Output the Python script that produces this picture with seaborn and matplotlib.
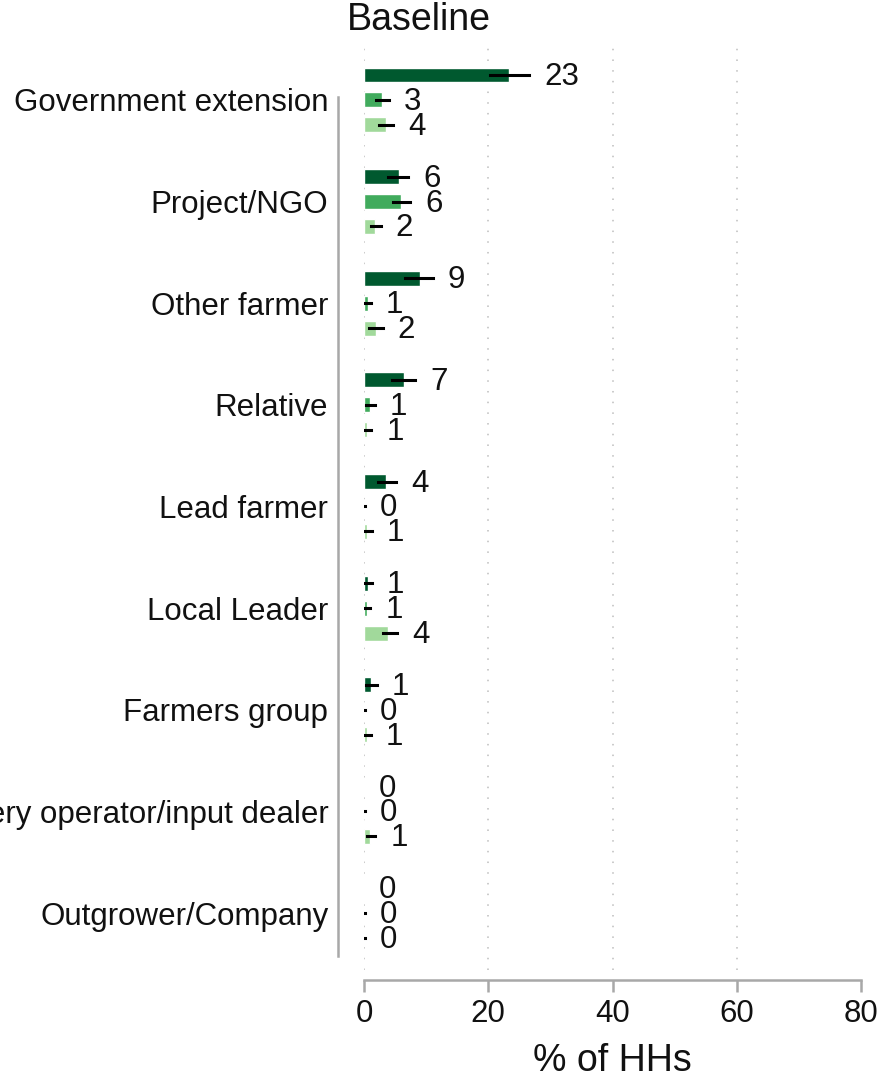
import numpy as np
import pandas as pd
import matplotlib
matplotlib.use("Agg")
import matplotlib.pyplot as plt
import seaborn as sns

# ---- data ----
categories = ["Government extension", "Project/NGO", "Other farmer", "Relative",
              "Lead farmer", "Local Leader", "Farmers group",
              "Machinery operator/input dealer", "Outgrower/Company"]
series = ["Series 1", "Series 2", "Series 3"]

values_s1 = [23.3, 5.6, 9.0, 6.5, 3.5, 0.6, 1.2, 0.0, 0.0]
lo_s1     = [20.3, 3.8, 6.6, 4.5, 2.2, 0.0, 0.3, np.nan, np.nan]
hi_s1     = [26.6, 7.1, 11.1, 8.2, 5.2, 1.3, 2.1, np.nan, np.nan]

values_s2 = [2.9, 5.9, 0.6, 1.0, 0.0, 0.5, 0.0, 0.0, 0.0]
lo_s2     = [2.0, 4.6, 0.2, 0.4, 0.0, 0.1, 0.0, 0.0, 0.0]
hi_s2     = [4.0, 7.4, 1.1, 1.7, 0.2, 1.0, 0.2, 0.2, 0.2]

values_s3 = [3.5, 1.7, 1.9, 0.5, 0.5, 3.9, 0.5, 1.0, 0.0]
lo_s3     = [2.4, 1.2, 0.8, 0.1, 0.2, 3.0, 0.1, 0.5, 0.0]
hi_s3     = [4.7, 2.7, 3.0, 1.2, 1.3, 5.3, 1.1, 1.8, 0.2]

xticks = [0, 20, 40, 60, 80]
gridticks = [0, 20, 40, 60]
title = "Baseline"
xlabel = "% of HHs"

palette = ["#00592f", "#41ab5d", "#a1d99b"]

vals = [values_s1, values_s2, values_s3]
los = [lo_s1, lo_s2, lo_s3]
his = [hi_s1, hi_s2, hi_s3]

df = pd.DataFrame({
    "source": categories * 3,
    "series": sum([[s] * len(categories) for s in series], []),
    "value": values_s1 + values_s2 + values_s3,
})

sns.set_theme(style="white")
plt.rcParams["font.family"] = ["Liberation Sans", "DejaVu Sans"]

W, H = 884, 1081
fig = plt.figure(figsize=(W / 100, H / 100), dpi=100)
ax_left, ax_right, ax_top, ax_bot = 364, 861, 44, 970
ax = fig.add_axes([ax_left / W, 1 - ax_bot / H, (ax_right - ax_left) / W, (ax_bot - ax_top) / H])

sns.barplot(data=df, y="source", x="value", hue="series", orient="h",
            order=categories, hue_order=series, palette=palette,
            width=0.735, gap=0.4, errorbar=None, saturation=1,
            legend=False, ax=ax)

# error bars + labels
for k, cont in enumerate(ax.containers):
    for i, p in enumerate(cont.patches):
        yc = p.get_y() + p.get_height() / 2
        v, lo, hi = vals[k][i], los[k][i], his[k][i]
        if not np.isnan(lo):
            ax.plot([lo, hi], [yc, yc], color="black", lw=2.2,
                    solid_capstyle="projecting", zorder=4)
            xref = hi
        else:
            xref = v
        ax.annotate(f"{int(np.floor(v + 0.5))}", xy=(xref, yc), xytext=(15, -2),
                    textcoords="offset pixels", ha="left", va="center",
                    fontsize=22.5, color="#111111", zorder=5)

ax.set_xlim(0, 80)
ax.set_ylim(8.56, -0.55)
ax.set_xticks(xticks)
ax.xaxis.remove_overlapping_locs = False
ax.set_xticks(gridticks, minor=True)
ax.grid(False)
ax.grid(True, axis="x", which="minor", color="#bdbdbd", lw=1.1,
        linestyle=(0, (1, 6.0)))
ax.set_axisbelow(True)

for s in ["top", "right"]:
    ax.spines[s].set_visible(False)
spcol = "#a8a8a8"
ax.spines["left"].set_position(("outward", 18.7))
ax.spines["left"].set_bounds(-0.03, 8.42)
ax.spines["left"].set_color(spcol)
ax.spines["left"].set_linewidth(1.8)
ax.spines["bottom"].set_position(("outward", 7.2))
ax.spines["bottom"].set_bounds(0, 80)
ax.spines["bottom"].set_color(spcol)
ax.spines["bottom"].set_linewidth(1.8)

ax.tick_params(axis="x", which="major", direction="out", length=8.6, width=1.8,
               color=spcol, labelsize=22.5, labelcolor="#111111", pad=5, bottom=True)
ax.tick_params(axis="x", which="minor", length=0, labelbottom=False)
ax.tick_params(axis="y", length=0, labelsize=22.5, labelcolor="#111111", pad=7)

ax.set_ylabel("")
ax.set_xlabel(xlabel, fontsize=27, color="#111111", labelpad=10)

fig.text(419 / W, 1 - 20 / H, title, ha="center", va="center", fontsize=27, color="#111111")

fig.savefig("out.png", dpi=100)
